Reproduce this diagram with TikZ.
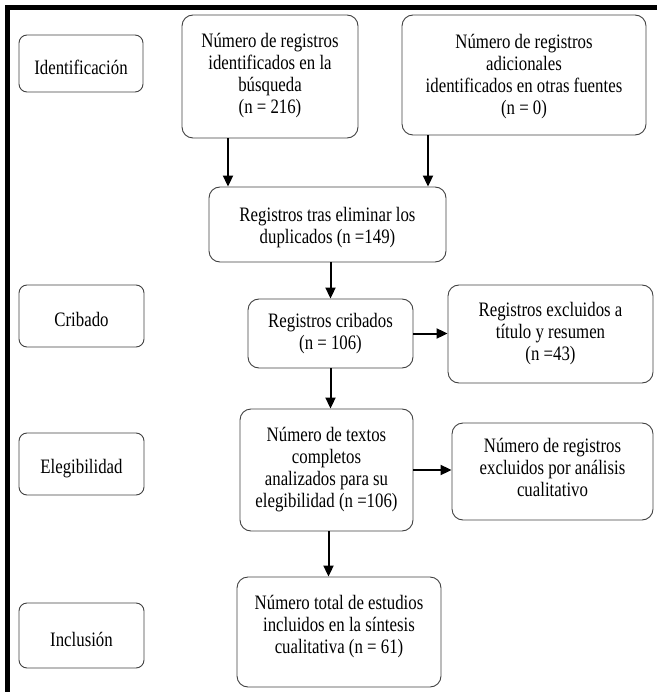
\documentclass[tikz,border=0pt]{standalone}
\usepackage{fontspec}
\setmainfont{Liberation Serif}
\usetikzlibrary{arrows.meta}
\newcommand{\cz}[1]{\scalebox{0.82}[1]{\begin{tabular}{@{}c@{}}#1\end{tabular}}}
\newcommand{\mv}[2]{\raisebox{#1}[\height][\depth]{#2}}
\begin{document}
\begin{tikzpicture}[x=1pt,y=-1pt,
  box/.style={draw=black!75, line width=0.9pt, rounded corners=11pt, align=center,
    inner sep=0pt, font=\fontsize{20.5}{22}\selectfont},
  lab/.style={box, rounded corners=8pt},
  sz/.style 2 args={minimum width=#1pt, minimum height=#2pt},
  arr/.style={line width=2pt, -{Triangle[length=11pt,width=10pt]}},
  frame/.style={line width=5pt, line join=miter}]
\useasboundingbox (0,0) rectangle (657,692);
\draw[frame] (657,7.5) -- (7.5,7.5) -- (7.5,692);

\node[lab, sz={124}{57}] (idf) at (81,63.5) {\mv{-7pt}{\cz{Identificación}}};
\node[lab, sz={125}{62}] (crib) at (81.5,316) {\mv{-6pt}{\cz{Cribado}}};
\node[lab, sz={125}{62}] (eleg) at (81.5,464) {\mv{-5pt}{\cz{Elegibilidad}}};
\node[lab, sz={125}{65}] (incl) at (81.5,635.5) {\mv{-7pt}{\cz{Inclusión}}};

\node[box, sz={176}{123}] (A) at (270,76.5) {\cz{Número de registros\\identificados en la\\búsqueda\\(n = 216)}};
\node[box, sz={244}{120}] (B) at (524,75) {\mv{-2pt}{\cz{Número de registros\\adicionales\\identificados en otras fuentes\\(n = 0)}}};
\node[box, sz={237}{75}] (C) at (327.5,224.5) {\mv{-4pt}{\cz{Registros tras eliminar los\\duplicados (n =149)}}};
\node[box, sz={165}{69}] (D) at (330.5,333.5) {\mv{-1pt}{\cz{Registros cribados\\(n = 106)}}};
\node[box, sz={205}{98}] (E) at (550.5,334) {\cz{Registros excluidos a\\título y resumen\\(n =43)}};
\node[box, sz={173}{122}] (F) at (326.5,470) {\cz{Número de textos\\completos\\analizados para su\\elegibilidad (n =106)}};
\node[box, sz={201}{97}] (G) at (552.5,471.5) {\mv{1pt}{\cz{Número de registros\\excluidos por análisis\\cualitativo}}};
\node[box, sz={204}{110}] (H) at (339,632) {\mv{5pt}{\cz{Número total de estudios\\incluidos en la síntesis\\cualitativa (n = 61)}}};

\draw[arr] ([xshift=-42pt]A.south) -- ([xshift=-42pt]A.south |- C.north);
\draw[arr] ([xshift=-96pt]B.south) -- ([xshift=-96pt]B.south |- C.north);
\draw[arr] (C.south -| D.north) -- (D.north);
\draw[arr] (D.east) -- (D.east -| E.west);
\draw[arr] (D.south) -- (D.south |- F.north);
\draw[arr] (F.east) -- (F.east -| G.west);
\draw[arr] ([xshift=2pt]F.south) -- ([xshift=2pt]F.south |- H.north);
\end{tikzpicture}
\end{document}
